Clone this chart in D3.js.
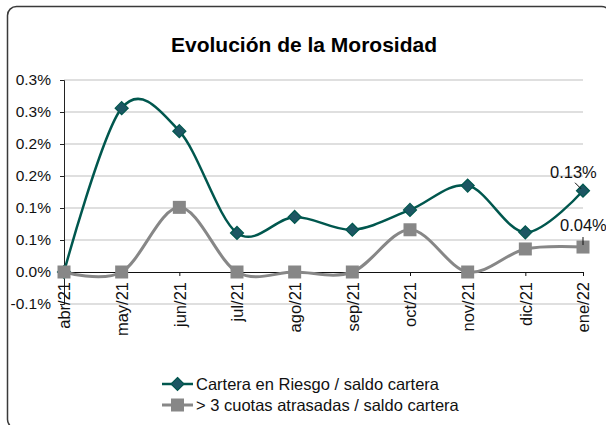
<!DOCTYPE html>
<html>
<head>
<meta charset="utf-8">
<script src="https://cdn.jsdelivr.net/npm/d3@7"></script>
<style>
  body { margin: 0; background: #fff; }
  svg { display: block; font-family: "Liberation Sans", Arial, sans-serif; }
</style>
</head>
<body>
<div id="chart"></div>
<script>
// Data (values in %)
const categories = ['abr/21', 'may/21', 'jun/21', 'jul/21', 'ago/21', 'sep/21', 'oct/21', 'nov/21', 'dic/21', 'ene/22'];
const carteraRiesgo = [0.000, 0.256, 0.220, 0.061, 0.086, 0.066, 0.097, 0.135, 0.062, 0.127];
const cuotasAtrasadas = [0.000, 0.000, 0.101, 0.000, 0.000, 0.000, 0.066, 0.000, 0.036, 0.039];
const yTicks = [-0.05, 0, 0.05, 0.10, 0.15, 0.20, 0.25, 0.30];
const yTickLabels = ['-0.1%', '0.0%', '0.1%', '0.1%', '0.2%', '0.2%', '0.3%', '0.3%'];
const seriesNames = ['Cartera en Riesgo / saldo cartera', '> 3 cuotas atrasadas / saldo cartera'];
const lastLabels = ['0.13%', '0.04%'];

const width = 606, height = 425;
const teal = '#00574e', tealFill = '#1d5663', gray = '#878787';

const svg = d3.select('#chart')
    .append('svg')
    .attr('width', width)
    .attr('height', height);

svg.append('rect')
    .attr('width', width).attr('height', height)
    .attr('fill', '#fff');

// outer chart border (right and bottom run off the picture)
svg.append('rect')
    .attr('x', 7.5).attr('y', 6.5)
    .attr('width', 603).attr('height', 422)
    .attr('rx', 9)
    .attr('fill', 'none')
    .attr('stroke', '#3a3a3a')
    .attr('stroke-width', 1.5);

svg.append('text')
    .attr('x', 304).attr('y', 52)
    .attr('text-anchor', 'middle')
    .attr('font-size', 21)
    .attr('font-weight', 'bold')
    .text('Evolución de la Morosidad');

// scales
const x = d3.scalePoint()
    .domain(categories)
    .range([64, 583]);

const y = d3.scaleLinear()
    .domain([-0.05, 0.30])
    .range([304, 80]);

// gridlines
svg.append('g')
    .selectAll('line')
    .data(yTicks.filter(d => d !== 0))
    .enter()
    .append('line')
    .attr('x1', 64).attr('x2', 583)
    .attr('y1', d => y(d)).attr('y2', d => y(d))
    .attr('stroke', '#d4d4d4')
    .attr('stroke-width', 1.5);

// y axis
const yAxis = svg.append('g')
    .attr('transform', 'translate(64,0)')
    .call(d3.axisLeft(y)
        .tickValues(yTicks)
        .tickSize(4)
        .tickPadding(9)
        .tickFormat((d, i) => yTickLabels[i]));
yAxis.select('.domain').attr('stroke', '#222').attr('stroke-width', 1);
yAxis.selectAll('.tick line').attr('stroke', '#222');
yAxis.selectAll('text')
    .attr('font-size', 15.5)
    .attr('font-family', '"Liberation Sans", Arial, sans-serif')
    .attr('fill', '#111');

// x axis on the zero line
const xAxis = svg.append('g')
    .attr('transform', `translate(0,${y(0)})`)
    .call(d3.axisBottom(x).tickSize(4).tickSizeOuter(0));
xAxis.select('.domain').attr('stroke', '#111').attr('stroke-width', 1.2);
xAxis.selectAll('.tick line').attr('stroke', '#111');
xAxis.selectAll('text')
    .attr('font-size', 16.5)
    .attr('font-family', '"Liberation Sans", Arial, sans-serif')
    .attr('fill', '#111')
    .attr('text-anchor', 'end')
    .attr('transform', 'rotate(-90)')
    .attr('x', -10)
    .attr('y', 0)
    .attr('dy', '0.35em');

const line = d3.line()
    .x((d, i) => x(categories[i]))
    .y(d => y(d))
    .curve(d3.curveCardinal.tension(0));

// series 1: diamonds
svg.append('path')
    .datum(carteraRiesgo)
    .attr('d', line)
    .attr('fill', 'none')
    .attr('stroke', teal)
    .attr('stroke-width', 2.5);

const diamond = 'M0,-6.5L6.5,0L0,6.5L-6.5,0Z';
svg.append('g')
    .selectAll('path')
    .data(carteraRiesgo)
    .enter()
    .append('path')
    .attr('d', diamond)
    .attr('transform', (d, i) => `translate(${x(categories[i])},${y(d)})`)
    .attr('fill', tealFill)
    .attr('stroke', teal)
    .attr('stroke-width', 1.2);

// series 2: squares
svg.append('path')
    .datum(cuotasAtrasadas)
    .attr('d', line)
    .attr('fill', 'none')
    .attr('stroke', gray)
    .attr('stroke-width', 3);

svg.append('g')
    .selectAll('rect')
    .data(cuotasAtrasadas)
    .enter()
    .append('rect')
    .attr('x', (d, i) => x(categories[i]) - 6.5)
    .attr('y', d => y(d) - 6.5)
    .attr('width', 13).attr('height', 13)
    .attr('fill', gray);

// data labels on the last point
const lastX = x(categories[categories.length - 1]);
const v1 = carteraRiesgo[carteraRiesgo.length - 1];
const v2 = cuotasAtrasadas[cuotasAtrasadas.length - 1];

svg.append('line')
    .attr('x1', lastX - 8).attr('y1', y(v1) - 8)
    .attr('x2', lastX - 2).attr('y2', y(v1) - 2)
    .attr('stroke', '#111').attr('stroke-width', 1);
svg.append('text')
    .attr('x', lastX - 33).attr('y', y(v1) - 13)
    .attr('font-size', 16.5)
    .attr('fill', '#111')
    .text(lastLabels[0]);

svg.append('line')
    .attr('x1', lastX).attr('y1', y(v2) - 10)
    .attr('x2', lastX).attr('y2', y(v2) - 2)
    .attr('stroke', '#111').attr('stroke-width', 1);
svg.append('text')
    .attr('x', lastX - 23).attr('y', y(v2) - 16)
    .attr('font-size', 16.5)
    .attr('fill', '#111')
    .text(lastLabels[1]);

// legend
const legend = svg.append('g');
const legendRows = [
    { name: seriesNames[0], color: teal, y: 384 },
    { name: seriesNames[1], color: gray, y: 405 }
];
legendRows.forEach((r, i) => {
    legend.append('line')
        .attr('x1', 162).attr('x2', 193)
        .attr('y1', r.y).attr('y2', r.y)
        .attr('stroke', r.color)
        .attr('stroke-width', i === 0 ? 2.5 : 3);
    if (i === 0) {
        legend.append('path')
            .attr('d', diamond)
            .attr('transform', `translate(177.5,${r.y})`)
            .attr('fill', tealFill)
            .attr('stroke', teal)
            .attr('stroke-width', 1.2);
    } else {
        legend.append('rect')
            .attr('x', 171).attr('y', r.y - 6.5)
            .attr('width', 13).attr('height', 13)
            .attr('fill', gray);
    }
    legend.append('text')
        .attr('x', 196).attr('y', r.y)
        .attr('dy', '0.35em')
        .attr('font-size', 16.5)
        .attr('fill', '#111')
        .text(r.name);
});
</script>
</body>
</html>
